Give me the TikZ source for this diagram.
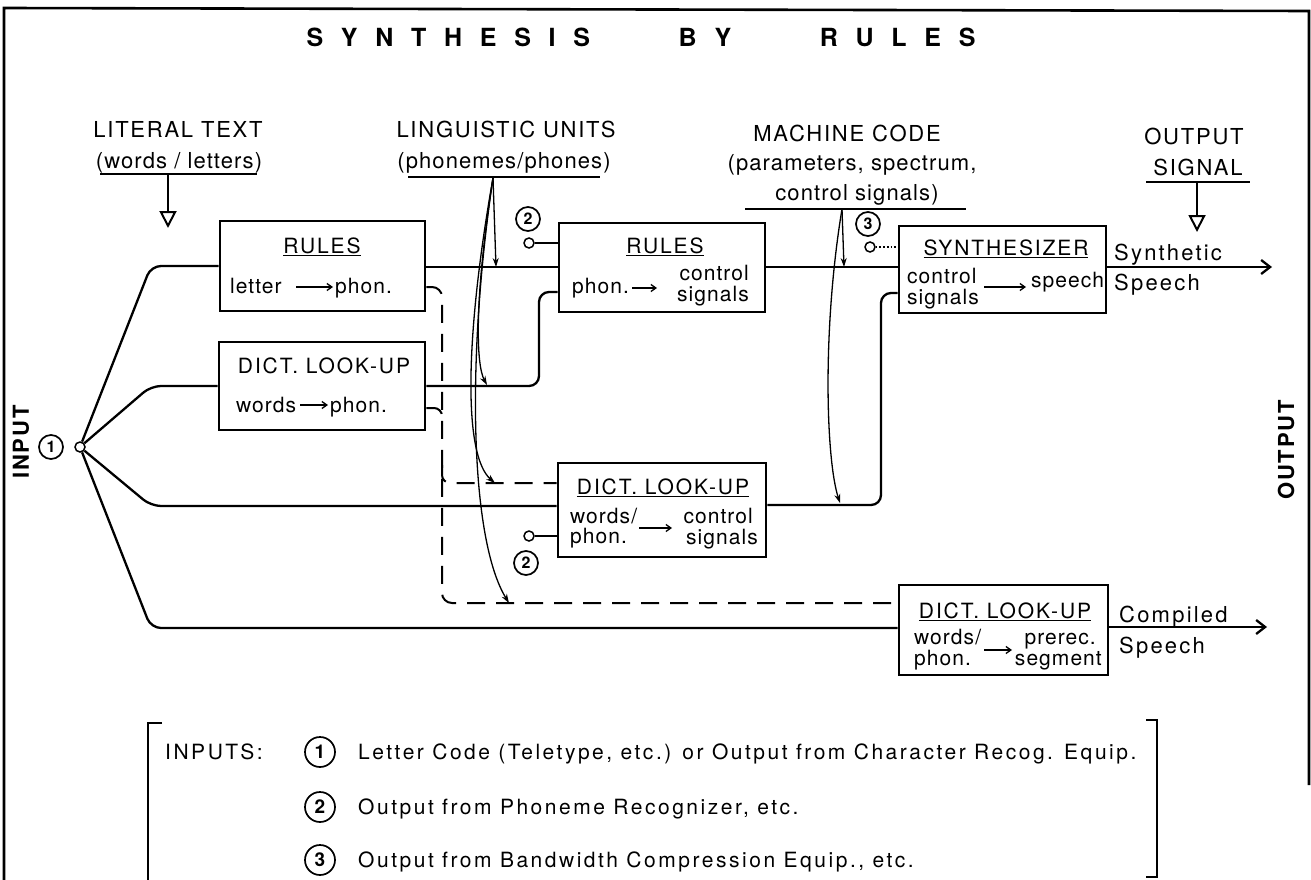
\documentclass[tikz,border=0pt]{standalone}
\usepackage{fontspec}
\setmainfont{TeX Gyre Heros}
\newfontfamily\hdrfont[LetterSpace=8]{TeX Gyre Heros}
\newfontfamily\subfont[LetterSpace=5]{TeX Gyre Heros}
\newfontfamily\boxfont[LetterSpace=9]{TeX Gyre Heros}
\newfontfamily\spkfont[LetterSpace=10]{TeX Gyre Heros}
\newfontfamily\lgdfont[LetterSpace=12]{TeX Gyre Heros}
\usetikzlibrary{arrows.meta}

\begin{document}
\begin{tikzpicture}[x=1pt,y=-1pt,
    box/.style={draw,line width=2.8pt,inner sep=0pt},
    hdr/.style={font=\hdrfont\fontsize{22}{26}\selectfont,inner sep=0pt},
    sub/.style={font=\subfont\fontsize{22}{26}\selectfont,inner sep=0pt},
    spk/.style={font=\spkfont\fontsize{22}{26}\selectfont,inner sep=0pt,anchor=base west},
    bhd/.style={font=\boxfont\fontsize{21}{24}\selectfont,inner sep=0pt,anchor=base},
    btx/.style={font=\subfont\fontsize{21}{23}\selectfont,inner sep=0pt},
    lgd/.style={font=\lgdfont\fontsize{21}{24}\selectfont,inner sep=0pt,anchor=base west},
    num/.style={draw,circle,line width=1.7pt,inner sep=0pt,minimum size=24pt,
        font=\fontsize{16}{16}\selectfont\bfseries},
    jack/.style={draw,circle,line width=1.5pt,inner sep=0pt,minimum size=10pt},
    conn/.style={line width=2.3pt},
    dashln/.style={line width=2pt,dash pattern=on 18pt off 11pt},
    ptr/.style={line width=1.3pt,-{Stealth[length=9pt,width=6pt]}},
    tarr/.style={line width=1.3pt,-{Straight Barb[length=5pt,width=7pt]}},
    outarr/.style={line width=2.3pt,-{Straight Barb[length=9pt,width=14pt]}},
    vdown/.style={line width=2.3pt,-{Triangle[open,length=17pt,width=17pt,line width=2pt]}}]
\useasboundingbox (0,0) rectangle (1311,880);
\draw[line width=2.6pt] (4,880) -- (4,8) -- (1309,11) -- (1309,785);

% title
\node[anchor=base,inner sep=0pt] (title) at (641,47)
    {\fontsize{25}{30}\selectfont\bfseries\makebox[669pt][s]{S\hfill Y\hfill N\hfill T\hfill
    H\hfill E\hfill S\hfill I\hfill S\hfill\hfill\hfill\hfill\hfill B\hfill Y\hfill\hfill\hfill\hfill\hfill
    R\hfill U\hfill L\hfill E\hfill S}};

% column heads
\node[hdr,anchor=base] (lit) at (178,137) {LITERAL TEXT};
\node[sub,anchor=base] (litsub) at (179,168) {(words / letters)};
\draw[line width=1.6pt] (100,174) -- (257,174);
\coordinate (litfoot) at (168,174);
\coordinate (littip) at (168,228);
\draw[vdown] (litfoot) -- (littip);

\node[hdr,anchor=base] (ling) at (506,138) {LINGUISTIC UNITS};
\node[sub,anchor=base] (lingsub) at (504,168) {(phonemes/phones)};
\draw[line width=1.6pt] (408,177) -- (600,177);
\coordinate (lingfoot) at (493,178);

\node[hdr,anchor=base] (mach) at (847,142) {MACHINE CODE};
\node[sub,anchor=base] (machsub) at (852,170) {(parameters, spectrum,};
\node[sub,anchor=base] (machsub2) at (857,200) {control signals)};
\draw[line width=1.6pt] (745,209) -- (966,209);
\coordinate (machfoot) at (842,209);

\node[hdr,anchor=base] (outsig) at (1194,144) {OUTPUT};
\node[hdr,anchor=base] (outsig2) at (1198,175) {SIGNAL};
\draw[line width=1.6pt] (1146,182) -- (1250,182);
\coordinate (sigfoot) at (1197,182);
\coordinate (sigtip) at (1197,232);
\draw[vdown] (sigfoot) -- (sigtip);

\node[hdr,rotate=90] (inlab) at (21,442) {\bfseries INPUT};
\node[hdr,rotate=90] (outlab) at (1286,450) {\bfseries OUTPUT};

% boxes
\node[box,minimum width=205pt,minimum height=90pt] (r1) at (322.5,266) {};
\node[box,minimum width=206pt,minimum height=88pt] (d1) at (322,386) {};
\node[box,minimum width=206pt,minimum height=89pt] (r2) at (662,267.5) {};
\node[box,minimum width=207pt,minimum height=87pt] (syn) at (1002.5,269.5) {};
\node[box,minimum width=208pt,minimum height=94pt] (d2) at (662,510) {};
\node[box,minimum width=209pt,minimum height=90pt] (d3) at (1003.5,630) {};

\node[bhd] (r1h) at (322,253) {\underline{RULES}};
\node[btx,anchor=base west] (r1a) at (230,293) {letter};
\node[btx,anchor=base west] (r1b) at (335,293) {phon.};
\draw[tarr] (296,287) -- (333,287);

\node[bhd] (d1h) at (324,373) {DICT. LOOK-UP};
\node[btx,anchor=base west] (d1a) at (236,412) {words};
\node[btx,anchor=base west] (d1b) at (330,412) {phon.};
\draw[tarr] (300,405) -- (328,405);

\node[bhd] (r2h) at (665,253) {\underline{RULES}};
\node[btx,anchor=base west] (r2a) at (572,293) {phon.};
\draw[tarr] (632,288) -- (657,288);
\node[btx,anchor=base east] (r2b) at (749,280) {control};
\node[btx,anchor=base east] (r2c) at (749,301) {signals};

\node[bhd] (synh) at (1006,255) {\underline{SYNTHESIZER}};
\node[btx,anchor=base west] (syna) at (907,283) {control};
\node[btx,anchor=base west] (synb) at (907,304) {signals};
\draw[tarr] (984,287) -- (1026,287);
\node[btx,anchor=base west] (sync) at (1031,287) {speech};

\node[bhd] (d2h) at (663,494) {\underline{DICT. LOOK-UP}};
\node[btx,anchor=base west] (d2a) at (570,523) {words/};
\node[btx,anchor=base west] (d2b) at (570,543) {phon.};
\draw[tarr] (639,528) -- (672,528);
\node[btx,anchor=base east] (d2c) at (753,523) {control};
\node[btx,anchor=base east] (d2d) at (758,544) {signals};

\node[bhd] (d3h) at (1005,618) {\underline{DICT. LOOK-UP}};
\node[btx,anchor=base west] (d3a) at (914,644) {words/};
\node[btx,anchor=base west] (d3b) at (914,665) {phon.};
\draw[tarr] (984,650) -- (1012,650);
\node[btx,anchor=base east] (d3c) at (1096,644) {prerec.};
\node[btx,anchor=base east] (d3d) at (1102,665) {segment};

% outputs
\node[spk] (synout1) at (1114,260) {Synthetic};
\node[spk] (synout2) at (1114,290) {Speech};
\node[spk] (cmpout1) at (1119,622) {Compiled};
\node[spk] (cmpout2) at (1119,653) {Speech};
\coordinate (synend) at (1272,267);
\coordinate (cmpend) at (1267,627);
\draw[outarr] (syn.east |- 0,267) -- (synend);
\draw[outarr] (d3.east |- 0,627) -- (cmpend);

% input fan
\node[jack] (in1) at (80,447) {};
\node[num] (n1) at (51,447) {1};
\foreach \yk/\tg in {266/r1,386/d1,506/d2,628/d3}
    \draw[conn,rounded corners=10pt] (in1) -- (151,\yk) -- (\tg.west |- 0,\yk);

% main paths
\draw[conn] (r1.east |- 0,267) -- (r2.west |- 0,267);
\draw[conn] (r2.east |- 0,267) -- (syn.west |- 0,267);
\draw[conn,rounded corners=10pt] (d1.east |- 0,386) -- (539,386) -- (539,292) -- (r2.west |- 0,292);
\draw[conn,rounded corners=10pt] (d2.east |- 0,505) -- (881,505) -- (881,293) -- (syn.west |- 0,293);

% dashed paths
\draw[dashln,rounded corners=10pt] (r1.east |- 0,287) -- (442,287) -- (442,603) -- (d3.west |- 0,603);
\draw[dashln,rounded corners=8pt] (d1.east |- 0,408) -- (442,408) -- (442,425);
\draw[dashln,rounded corners=8pt] (442,465) -- (442,483) -- (d2.west |- 0,483);

% extra inputs
\node[jack] (p2a) at (529,243) {};
\node[num] (n2a) at (528,219) {2};
\draw[line width=1.7pt] (p2a) -- (r2.west |- p2a);
\node[jack] (p2b) at (529,536) {};
\node[num] (n2b) at (526,563) {2};
\draw[line width=1.7pt] (p2b) -- (d2.west |- p2b);
\node[jack] (p3) at (870,247) {};
\node[num] (n3) at (868,224) {3};
\draw[line width=1.7pt,dotted] (p3) -- (syn.west |- p3);

% pointers
\draw[ptr] (lingfoot) -- (496,267);
\draw[ptr] (lingfoot) .. controls (474,300) and (476,365) .. (487,385);
\draw[ptr] (lingfoot) .. controls (466,330) and (462,455) .. (495,483);
\draw[ptr] (lingfoot) .. controls (466,360) and (470,540) .. (509,603);
\draw[ptr] (machfoot) -- (844,267);
\draw[ptr] (machfoot) .. controls (822,330) and (826,460) .. (840,503);

% legend
\draw[line width=2pt] (162,723) -- (148,723) -- (148,880);
\draw[line width=2pt] (1146,720) -- (1157,720) -- (1157,877) -- (1146,877);
\node[lgd] (lg0) at (165,759) {INPUTS:};
\foreach \k/\yb/\txt in {1/759/{Letter Code (Teletype, etc.) or Output from Character Recog. Equip.},
        2/814/{Output from Phoneme Recognizer, etc.},
        3/867/{Output from Bandwidth Compression Equip., etc.}}{
    \node[num,minimum size=30pt,font=\fontsize{19}{19}\selectfont\bfseries] (lgn\k) at (320,\yb-7) {\k};
    \node[lgd] (lg\k) at (358,\yb) {\txt};
}
\end{tikzpicture}
\end{document}
